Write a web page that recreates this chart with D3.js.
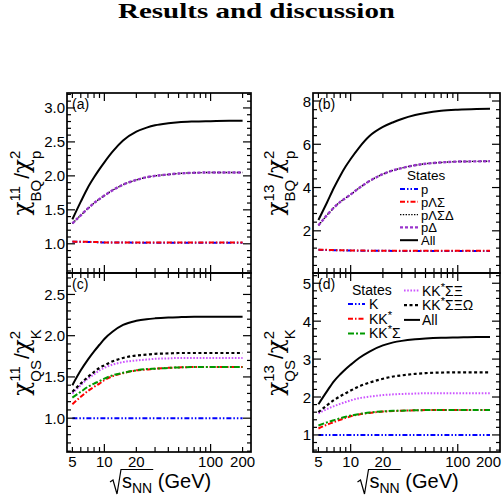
<!DOCTYPE html>
<html><head><meta charset="utf-8">
<script src="https://cdn.jsdelivr.net/npm/d3@7"></script>
<style>body{margin:0;background:#fff}text{font-family:"Liberation Sans",Arial,sans-serif;fill:#000}</style>
</head><body><svg id="c" width="502" height="503"></svg>
<script>
// ---------- data ----------
const energies = [5,6,7,8,9,10,12,15,20,25,30,40,50,70,100,150,200];
const xTickLabels = [5,10,20,100,200];

// panel (a): chi11_BQ / chi2_p
const aP    = [1.03,1.03,1.025,1.025,1.02,1.02,1.02,1.02,1.015,1.015,1.015,1.015,1.015,1.015,1.015,1.015,1.015];
const aPLS  = [1.035,1.03,1.03,1.025,1.025,1.02,1.02,1.02,1.02,1.02,1.02,1.02,1.02,1.02,1.02,1.02,1.02];
const aPLSD = [1.30,1.42,1.52,1.60,1.66,1.71,1.79,1.87,1.94,1.98,2.00,2.02,2.035,2.045,2.05,2.05,2.05];
const aPD   = [1.30,1.42,1.52,1.60,1.66,1.71,1.79,1.87,1.94,1.98,2.00,2.02,2.035,2.045,2.05,2.05,2.05];
const aAll  = [1.36,1.62,1.83,1.98,2.10,2.20,2.36,2.52,2.65,2.71,2.745,2.775,2.79,2.80,2.805,2.81,2.81];
// panel (b): chi13_BQ / chi2_p
const bP    = [1.12,1.11,1.10,1.10,1.09,1.09,1.08,1.08,1.08,1.07,1.07,1.07,1.07,1.07,1.07,1.07,1.07];
const bPLS  = [1.13,1.12,1.11,1.10,1.10,1.09,1.09,1.08,1.08,1.08,1.08,1.08,1.08,1.08,1.08,1.08,1.08];
const bPLSD = [2.25,2.72,3.08,3.34,3.52,3.68,3.98,4.30,4.62,4.80,4.90,5.03,5.10,5.16,5.20,5.21,5.22];
const bPD   = [2.25,2.72,3.08,3.34,3.52,3.68,3.98,4.30,4.62,4.80,4.90,5.03,5.10,5.16,5.20,5.21,5.22];
const bAll  = [2.50,3.30,4.00,4.55,4.98,5.32,5.85,6.38,6.80,7.02,7.17,7.35,7.45,7.55,7.60,7.63,7.64];
// panel (c): chi11_QS / chi2_K
const cK    = [1.0,1.0,1.0,1.0,1.0,1.0,1.0,1.0,1.0,1.0,1.0,1.0,1.0,1.0,1.0,1.0,1.0];
const cKs   = [1.17,1.26,1.33,1.38,1.42,1.46,1.51,1.545,1.58,1.59,1.60,1.61,1.615,1.62,1.62,1.62,1.62];
const cKsS  = [1.25,1.32,1.38,1.42,1.45,1.48,1.52,1.55,1.58,1.595,1.60,1.61,1.615,1.62,1.62,1.62,1.62];
const cKsSX = [1.30,1.40,1.48,1.53,1.58,1.61,1.65,1.68,1.70,1.71,1.72,1.725,1.73,1.73,1.73,1.73,1.73];
const cKsSXO= [1.32,1.42,1.50,1.56,1.61,1.64,1.69,1.73,1.76,1.77,1.78,1.785,1.79,1.79,1.79,1.79,1.79];
const cAll  = [1.40,1.58,1.71,1.81,1.89,1.96,2.05,2.13,2.18,2.20,2.21,2.22,2.225,2.23,2.23,2.23,2.23];
// panel (d): chi13_QS / chi2_K
const dK    = [1.0,1.0,1.0,1.0,1.0,1.0,1.0,1.0,1.0,1.0,1.0,1.0,1.0,1.0,1.0,1.0,1.0];
const dKs   = [1.17,1.27,1.34,1.40,1.45,1.49,1.54,1.58,1.615,1.63,1.64,1.65,1.655,1.66,1.66,1.66,1.66];
const dKsS  = [1.25,1.33,1.39,1.44,1.48,1.51,1.55,1.59,1.62,1.635,1.64,1.65,1.655,1.66,1.66,1.66,1.66];
const dKsSX = [1.57,1.68,1.76,1.82,1.87,1.91,1.97,2.01,2.05,2.07,2.08,2.09,2.10,2.10,2.10,2.10,2.10];
const dKsSXO= [1.60,1.78,1.92,2.02,2.10,2.17,2.28,2.38,2.48,2.54,2.57,2.61,2.63,2.645,2.65,2.65,2.65];
const dAll  = [1.81,2.15,2.42,2.60,2.74,2.85,3.03,3.20,3.36,3.44,3.48,3.52,3.54,3.56,3.57,3.58,3.58];

const aTicks = [1.0,1.5,2.0,2.5,3.0];
const bTicks = [2,4,6,8];
const cTicks = [1.0,1.5,2.0,2.5];
const dTicks = [1,2,3,4,5];

// ---------- styles ----------
const ST = {
  blue:   {c:"#0000ff", w:2,   d:"5,2,1.5,2,1.5,2"},
  red:    {c:"#ff0000", w:2,   d:"5,2,1.5,2"},
  green:  {c:"#009900", w:2,   d:"6,2,2,2"},
  bdot:   {c:"#000000", w:1.4, d:"1.4,1.4"},
  purple: {c:"#9933cc", w:2.4, d:"3,2"},
  violet: {c:"#cc55ff", w:2,   d:"1.6,1.6"},
  bdash:  {c:"#000000", w:2.2, d:"3,2.5"},
  solid:  {c:"#000000", w:2,   d:null}
};

const svg = d3.select("#c");
svg.append("text").attr("x",256.5).attr("y",18).attr("text-anchor","middle")
  .attr("textLength",277).attr("lengthAdjust","spacingAndGlyphs")
  .style("font-family","'Liberation Serif','DejaVu Serif',serif").style("font-weight","bold").style("font-size","21px")
  .text("Results and discussion");

const L = {x0:67, x1:251, xmax:240}, R = {x0:313, x1:500, xmax:248};
const T = {y0:93, y1:273}, B = {y0:273, y1:452};

const panels = [
  {id:"a", col:L, row:T, dom:[0.57,3.22], ticks:aTicks, fmt:d3.format(".1f"), minor:0.1, label:"(a)", num:"11", sub:"BQ", den:"p", tOff:38, bottom:false,
   series:[{v:aP,s:ST.blue},{v:aPLS,s:ST.red},{v:aPLSD,s:ST.bdot},{v:aPD,s:ST.purple},{v:aAll,s:ST.solid}]},
  {id:"b", col:R, row:T, dom:[0.05,8.37], ticks:bTicks, fmt:d3.format("d"), minor:0.4, label:"(b)", num:"13", sub:"BQ", den:"p", tOff:30, bottom:false,
   series:[{v:bP,s:ST.blue,n:[{t:"p"}]},{v:bPLS,s:ST.red,n:[{t:"pΛΣ"}]},{v:bPLSD,s:ST.bdot,n:[{t:"pΛΣΔ"}]},{v:bPD,s:ST.purple,n:[{t:"pΔ"}]},{v:bAll,s:ST.solid,n:[{t:"All"}]}]},
  {id:"c", col:L, row:B, dom:[0.59,2.76], ticks:cTicks, fmt:d3.format(".1f"), minor:0.1, label:"(c)", num:"11", sub:"QS", den:"K", tOff:38, bottom:true,
   series:[{v:cK,s:ST.blue},{v:cKs,s:ST.red},{v:cKsS,s:ST.green},{v:cKsSX,s:ST.violet},{v:cKsSXO,s:ST.bdash},{v:cAll,s:ST.solid}]},
  {id:"d", col:R, row:B, dom:[0.55,5.27], ticks:dTicks, fmt:d3.format("d"), minor:0.2, label:"(d)", num:"13", sub:"QS", den:"K", tOff:30, bottom:true,
   series:[{v:dK,s:ST.blue,n:[{t:"K"}]},{v:dKs,s:ST.red,n:[{t:"KK"},{t:"*",sup:1}]},{v:dKsS,s:ST.green,n:[{t:"KK"},{t:"*",sup:1},{t:"Σ"}]},
           {v:dKsSX,s:ST.violet,n:[{t:"KK"},{t:"*",sup:1},{t:"ΣΞ"}]},{v:dKsSXO,s:ST.bdash,n:[{t:"KK"},{t:"*",sup:1},{t:"ΣΞΩ"}]},{v:dAll,s:ST.solid,n:[{t:"All"}]}]}
];

function styl(sel, s){
  sel.attr("fill","none").attr("stroke",s.c).attr("stroke-width",s.w);
  if (s.d) sel.attr("stroke-dasharray", s.d);
  return sel;
}
function richText(g, x, y, parts, size){
  const t = g.append("text").attr("x",x).attr("y",y).style("font-size",size+"px").attr("dominant-baseline","central");
  let prevSup = false;
  parts.forEach(p=>{
    const ts = t.append("tspan").text(p.t);
    if (p.sup) ts.attr("dy",-4).style("font-size",(size*0.8)+"px");
    else if (prevSup) ts.attr("dy",4);
    prevSup = !!p.sup;
  });
  return t;
}

const xMinor = [6,7,8,9,20,30,40,50,60,70,80,90,200];
const xMajor = [10,100];

panels.forEach(P=>{
  const x = d3.scaleLog().domain([4.45,P.col.xmax]).range([P.col.x0,P.col.x1]);
  const y = d3.scaleLinear().domain(P.dom).range([P.row.y1,P.row.y0]);
  const g = svg.append("g");
  const clipId = "clip"+P.id;
  svg.append("clipPath").attr("id",clipId).append("rect")
    .attr("x",P.col.x0).attr("y",P.row.y0).attr("width",P.col.x1-P.col.x0).attr("height",P.row.y1-P.row.y0);

  // curves
  const line = d3.line().x((d,i)=>x(energies[i])).y(d=>y(d)).curve(d3.curveMonotoneX);
  const cg = g.append("g").attr("clip-path",`url(#${clipId})`);
  P.series.forEach(S=>{ styl(cg.append("path").attr("d",line(S.v)), S.s); });

  // frame
  g.append("rect").attr("x",P.col.x0).attr("y",P.row.y0).attr("width",P.col.x1-P.col.x0).attr("height",P.row.y1-P.row.y0)
    .attr("fill","none").attr("stroke","#000").attr("stroke-width",1.7);

  // x ticks (inside, top and bottom)
  const tk = g.append("g").attr("stroke","#000").attr("stroke-width",1.2);
  const xt = [...xMajor.map(v=>({v,l:8})), {v:5,l:5}, ...xMinor.map(v=>({v,l:5}))];
  xt.forEach(t=>{
    const px = x(t.v);
    tk.append("line").attr("x1",px).attr("x2",px).attr("y1",P.row.y1).attr("y2",P.row.y1-t.l);
    tk.append("line").attr("x1",px).attr("x2",px).attr("y1",P.row.y0).attr("y2",P.row.y0+t.l);
  });
  // y ticks
  const yMin = [];
  for (let v = Math.ceil(P.dom[0]/P.minor)*P.minor; v <= P.dom[1]+1e-9; v += P.minor) yMin.push(+v.toFixed(3));
  yMin.forEach(v=>{
    const major = P.ticks.some(t=>Math.abs(t-v)<1e-6);
    const l = major?8:4, py = y(v);
    tk.append("line").attr("x1",P.col.x0).attr("x2",P.col.x0+l).attr("y1",py).attr("y2",py);
    tk.append("line").attr("x1",P.col.x1).attr("x2",P.col.x1-l).attr("y1",py).attr("y2",py);
  });
  P.ticks.forEach(v=>{
    g.append("text").attr("x",P.col.x0-2).attr("y",y(v)).attr("text-anchor","end").attr("dominant-baseline","central")
      .style("font-size","15px").text(P.fmt(v));
  });
  if (P.bottom){
    xTickLabels.forEach(v=>{
      const tx = g.append("text").attr("x",x(v)).attr("y",P.row.y1+15).attr("text-anchor","middle")
        .style("font-size","15px").text(v);
      if (v===200 && P.id==="d") tx.attr("text-anchor","end").attr("x",501);
    });
    // x title
    const cx = (P.col.x0+P.col.x1)/2;
    const xt0 = cx-37;
    const t = g.append("text").attr("x",xt0).attr("y",488).style("font-size","20px");
    t.append("tspan").text("s");
    t.append("tspan").attr("dy",5).style("font-size","14px").text("NN");
    t.append("tspan").attr("dy",-5).text(" (GeV)");
    const endNN = xt0 + t.node().getSubStringLength(0,3);
    g.append("path").attr("d",`M${cx-49},482 L${cx-46},480 L${cx-42},494 L${cx-38},469.5 L${endNN+1},469.5`)
      .attr("fill","none").attr("stroke","#000").attr("stroke-width",1.2);
  }
  // panel label
  g.append("text").attr("x",P.col.x0+5).attr("y",P.row.y0+16).style("font-size","14px").text(P.label);

  // y title: chi^{num}_{sub} / chi^2_{den}
  const cy = (P.row.y0+P.row.y1)/2;
  const tg = g.append("g").attr("transform",`translate(${P.col.x0-P.tOff},${cy}) rotate(-90)`);
  let cur = 0;
  function put(str, size, dy, fam){
    const el = tg.append("text").attr("x",cur).attr("y",dy).style("font-size",size+"px").text(str);
    if (fam) el.style("font-family",fam);
    return el;
  }
  function w(el){ return el.node().getComputedTextLength(); }
  const chiF = "'DejaVu Serif',serif";
  let e = put("χ",23,0,chiF); cur += w(e);
  let s1 = put(P.num,15,-9), s2 = put(P.sub,15,12);
  cur += Math.max(w(s1),w(s2)) + 1;
  e = put("/",21,0); cur += w(e);
  e = put("χ",23,0,chiF); cur += w(e);
  s1 = put("2",15,-9); s2 = put(P.den,15,12);
  cur += Math.max(w(s1),w(s2));
  tg.selectAll("text").attr("transform",`translate(${-cur/2},0)`);

  // legends
  if (P.id==="b"){
    const lg = g.append("g");
    lg.append("text").attr("x",407).attr("y",175).attr("dominant-baseline","central").style("font-size","13.5px").text("States");
    P.series.forEach((S,i)=>{
      const yy = 189 + i*12.8;
      styl(lg.append("line").attr("x1",400).attr("x2",418).attr("y1",yy).attr("y2",yy), S.s);
      richText(lg, 421, yy, S.n, 13);
    });
  }
  if (P.id==="d"){
    const lg = g.append("g");
    lg.append("text").attr("x",352).attr("y",290).attr("dominant-baseline","central").style("font-size","14px").text("States");
    P.series.forEach((S,i)=>{
      const c2 = i>=3;
      const yy = c2 ? 290.5 + (i-3)*14.7 : 304 + i*14.7;
      const x1 = c2 ? 404 : 348, x2 = c2 ? 420 : 365, tx = c2 ? 422 : 369;
      styl(lg.append("line").attr("x1",x1).attr("x2",x2).attr("y1",yy).attr("y2",yy), S.s);
      richText(lg, tx, yy, S.n, 14);
    });
  }
});
</script></body></html>
